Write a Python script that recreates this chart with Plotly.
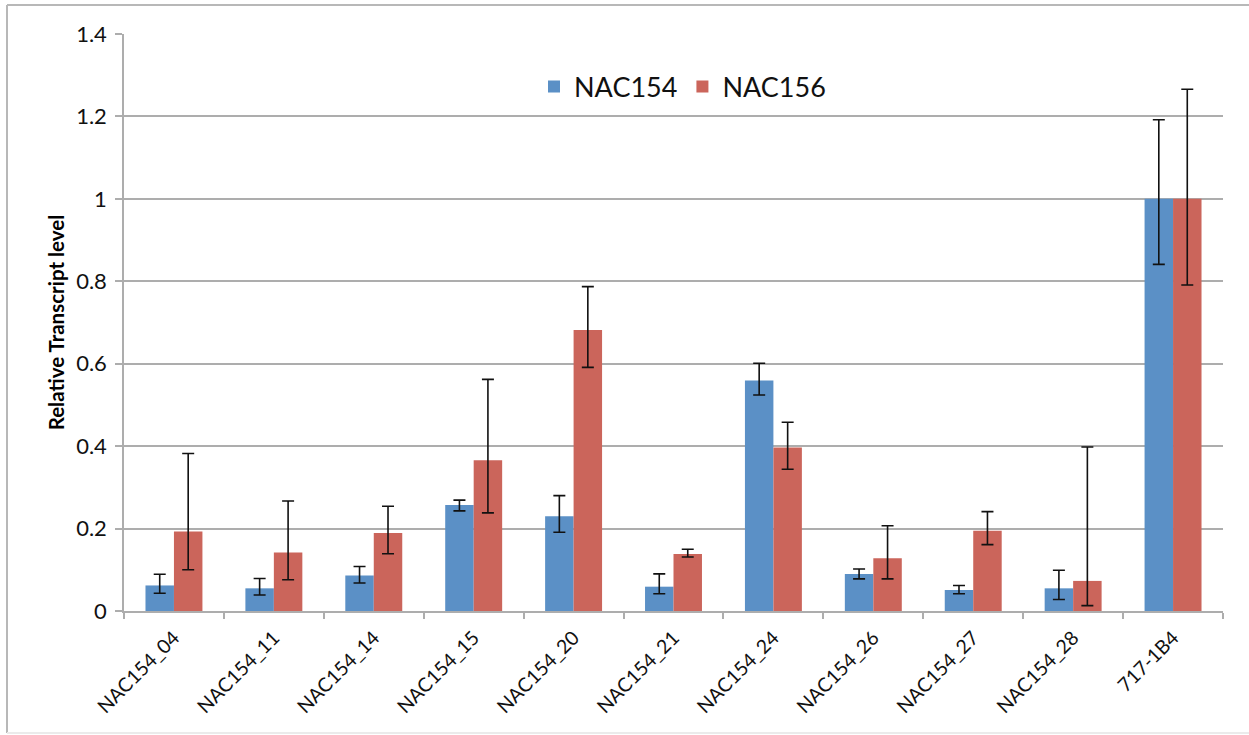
import plotly.graph_objects as go

# Sample lines
categories = ["NAC154_04", "NAC154_11", "NAC154_14", "NAC154_15", "NAC154_20",
              "NAC154_21", "NAC154_24", "NAC154_26", "NAC154_27", "NAC154_28", "717-1B4"]

# NAC154 relative transcript level with upper / lower error-bar ends
nac154 = [0.062, 0.055, 0.086, 0.257, 0.230, 0.059, 0.559, 0.090, 0.051, 0.055, 1.0]
nac154_upper = [0.089, 0.079, 0.108, 0.269, 0.280, 0.090, 0.601, 0.102, 0.062, 0.099, 1.192]
nac154_lower = [0.043, 0.039, 0.068, 0.243, 0.191, 0.042, 0.524, 0.078, 0.042, 0.028, 0.841]

# NAC156 relative transcript level with upper / lower error-bar ends
nac156 = [0.193, 0.142, 0.189, 0.366, 0.682, 0.138, 0.397, 0.128, 0.195, 0.073, 1.0]
nac156_upper = [0.382, 0.267, 0.254, 0.562, 0.787, 0.150, 0.458, 0.207, 0.241, 0.398, 1.266]
nac156_lower = [0.100, 0.076, 0.139, 0.238, 0.591, 0.131, 0.344, 0.078, 0.161, 0.013, 0.791]

BLUE = "#5B90C6"
RED = "#CB655B"
GRID = "#ADADAD"
FONT = "Lato"


def err(vals, upper, lower):
    return dict(type="data", symmetric=False,
                array=[u - v for u, v in zip(upper, vals)],
                arrayminus=[v - l for l, v in zip(lower, vals)],
                color="#111111", thickness=1.6, width=6)


fig = go.Figure()
fig.add_trace(go.Bar(name="NAC154", x=categories, y=nac154, marker_color=BLUE,
                     marker_line_width=0, error_y=err(nac154, nac154_upper, nac154_lower)))
fig.add_trace(go.Bar(name="NAC156", x=categories, y=nac156, marker_color=RED,
                     marker_line_width=0, error_y=err(nac156, nac156_upper, nac156_lower)))

W, H = 1249, 735
ML, MR, MT, MB = 124, 26, 34, 124
pw, ph = W - ML - MR, H - MT - MB


def px(x):
    return (x - ML) / pw


def py(y):
    return (H - MB - y) / ph


# outer chart frame
frame = []
frame.append(dict(type="line", xref="paper", yref="paper", x0=px(7), x1=px(1260),
                  y0=py(5), y1=py(5), line=dict(color="#B8B8B8", width=2)))
frame.append(dict(type="line", xref="paper", yref="paper", x0=px(7), x1=px(7),
                  y0=py(5), y1=py(733), line=dict(color="#B8B8B8", width=2)))
frame.append(dict(type="line", xref="paper", yref="paper", x0=px(7), x1=px(1260),
                  y0=py(733), y1=py(733), line=dict(color="#EBEBEB", width=2)))

fig.update_layout(
    width=W, height=H,
    margin=dict(l=ML, r=MR, t=MT, b=MB, pad=0),
    paper_bgcolor="white", plot_bgcolor="white",
    barmode="group", bargap=0.43, bargroupgap=0,
    font=dict(family=FONT, color="#111111"),
    showlegend=True,
    legend=dict(orientation="h", x=px(534), y=py(87), xanchor="left", yanchor="middle",
                font=dict(family=FONT, size=27, color="#111111"),
                bgcolor="rgba(0,0,0,0)", itemclick=False, traceorder="normal"),
    shapes=frame,
)

fig.update_xaxes(
    showgrid=False, showline=True, linecolor=GRID, linewidth=1.5,
    ticks="outside", tickson="boundaries", ticklen=6, tickcolor=GRID, tickwidth=1.5,
    tickangle=-45, ticklabelstandoff=6,
    tickfont=dict(family=FONT, size=19.5, color="#111111"),
)
fig.update_yaxes(
    range=[0, 1.4], dtick=0.2, tickformat="~g",
    showgrid=True, gridcolor=GRID, gridwidth=1.5,
    showline=True, linecolor=GRID, linewidth=1.5,
    ticks="outside", ticklen=7, tickcolor=GRID, tickwidth=1.5,
    ticklabelstandoff=4,
    tickfont=dict(family=FONT, size=22, color="#111111"),
    zeroline=False,
    title=dict(text="<b>Relative Transcript level</b>", standoff=6,
               font=dict(family=FONT, size=20.5, color="#000000")),
)

fig.write_html("out.html")
